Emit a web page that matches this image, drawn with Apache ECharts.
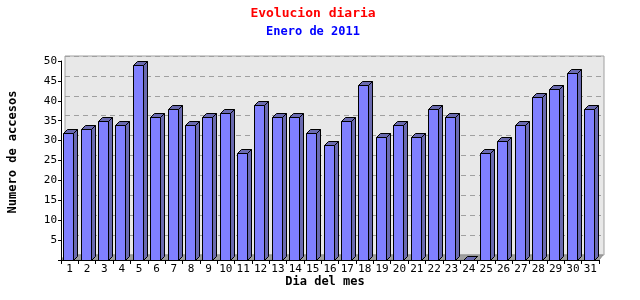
<!DOCTYPE html>
<html>
<head>
<meta charset="utf-8">
<script src="https://cdn.jsdelivr.net/npm/echarts@6/dist/echarts.min.js"></script>
<style>html,body{margin:0;padding:0;background:#fff;}#c{width:640px;height:300px;}</style>
</head>
<body>
<div id="c"></div>
<script>
var days = ['1','2','3','4','5','6','7','8','9','10','11','12','13','14','15','16','17','18','19','20','21','22','23','24','25','26','27','28','29','30','31'];
var accesos = [32,33,35,34,49,36,38,34,36,37,27,39,36,36,32,29,35,44,31,34,31,38,36,0,27,30,34,41,43,47,38];
var titleText = 'Evolucion diaria';
var subtitleText = 'Enero de 2011';
var xName = 'Dia del mes';
var yName = 'Numero de accesos';

var FONT = '"DejaVu Sans Mono", "Liberation Mono", monospace';
var DX = 4, DY = 5, BD = 4;
var chart = echarts.init(document.getElementById('c'), null, {renderer: 'canvas'});

function floorItem(params, api) {
  var cs = params.coordSys;
  var x0 = cs.x, x1 = cs.x + cs.width, y0 = cs.y + cs.height;
  return {
    type: 'polygon',
    shape: {points: [[x0, y0], [x1, y0], [x1 + DX, y0 - DY], [x0 + DX, y0 - DY]]},
    style: {fill: '#a0a0a0', stroke: '#909090', lineWidth: 1},
    silent: true
  };
}

function barItem(params, api) {
  var i = api.value(0), v = api.value(1);
  var p0 = api.coord([i, 0]);
  var p1 = api.coord([i, v]);
  var bw = api.size([1, 0])[0];
  var w = Math.round(bw * 0.55);
  var xl = Math.round(p0[0] - bw * 0.36) + 0.5;
  var yb = Math.round(p0[1]) + 0.5;
  var yt = Math.round(p1[1]) + 0.5;
  var xr = xl + w;
  var st = {stroke: '#000', lineWidth: 1};
  return {
    type: 'group',
    children: [
      {type: 'polygon', shape: {points: [[xr, yt], [xr + BD, yt - BD], [xr + BD, yb - BD], [xr, yb]]},
        style: Object.assign({fill: '#6a6ab0'}, st)},
      {type: 'polygon', shape: {points: [[xl, yt], [xr, yt], [xr + BD, yt - BD], [xl + BD, yt - BD]]},
        style: Object.assign({fill: '#6a6ab0'}, st)},
      {type: 'rect', shape: {x: xl, y: yt, width: w, height: yb - yt},
        style: Object.assign({fill: '#8080ff'}, st)}
    ]
  };
}

var barData = accesos.map(function (v, i) { return [i, v]; });

chart.setOption({
  animation: false,
  backgroundColor: '#fff',
  grid: [
    {left: 61, right: 41, top: 61, bottom: 40, show: false, z: 5},
    {left: 65, right: 36, top: 56, bottom: 45, show: true, backgroundColor: '#e8e8e8', borderColor: '#a0a0a0', borderWidth: 1, z: 0}
  ],
  xAxis: [
    {type: 'category', gridIndex: 0, data: days, boundaryGap: true,
      axisLine: {show: true, lineStyle: {color: '#000', width: 1}},
      axisTick: {show: true, alignWithLabel: false, length: 4, lineStyle: {color: '#000'}},
      axisLabel: {color: '#000', fontFamily: FONT, fontSize: 11, margin: 4, interval: 0},
      splitLine: {show: false}, z: 10},
    {type: 'category', gridIndex: 1, data: days, show: false}
  ],
  yAxis: [
    {type: 'value', gridIndex: 0, min: 0, max: 50, interval: 5,
      axisLine: {show: true, lineStyle: {color: '#000', width: 1}},
      axisTick: {show: true, length: 3, lineStyle: {color: '#000'}},
      axisLabel: {color: '#000', fontFamily: FONT, fontSize: 11, margin: 4,
        formatter: function (v) { return v === 0 ? '' : String(v); }},
      splitLine: {show: false}, z: 10},
    {type: 'value', gridIndex: 1, min: 0, max: 50, interval: 5,
      axisLine: {show: false}, axisTick: {show: false}, axisLabel: {show: false},
      splitLine: {show: true, lineStyle: {color: '#a0a0a0', type: [5, 4], width: 1}}}
  ],
  series: [
    {type: 'custom', xAxisIndex: 0, yAxisIndex: 0, data: [[0, 0]], renderItem: floorItem, z: 1, silent: true, clip: false},
    {type: 'custom', xAxisIndex: 0, yAxisIndex: 0, data: barData, renderItem: barItem, z: 3, clip: false,
      encode: {x: 0, y: 1}}
  ],
  graphic: [
    {type: 'text', x: 313, y: 14, style: {text: titleText, fill: '#ff0000', font: 'bold 13px ' + FONT, align: 'center', verticalAlign: 'middle'}},
    {type: 'text', x: 313, y: 32, style: {text: subtitleText, fill: '#0000ff', font: 'bold 12px ' + FONT, align: 'center', verticalAlign: 'middle'}},
    {type: 'text', x: 325, y: 282, style: {text: xName, fill: '#000', font: 'bold 12px ' + FONT, align: 'center', verticalAlign: 'middle'}},
    {type: 'text', x: 13, y: 152, rotation: Math.PI / 2,
      style: {text: yName, fill: '#000', font: 'bold 12px ' + FONT, align: 'center', verticalAlign: 'middle'}}
  ]
});
</script>
</body>
</html>
